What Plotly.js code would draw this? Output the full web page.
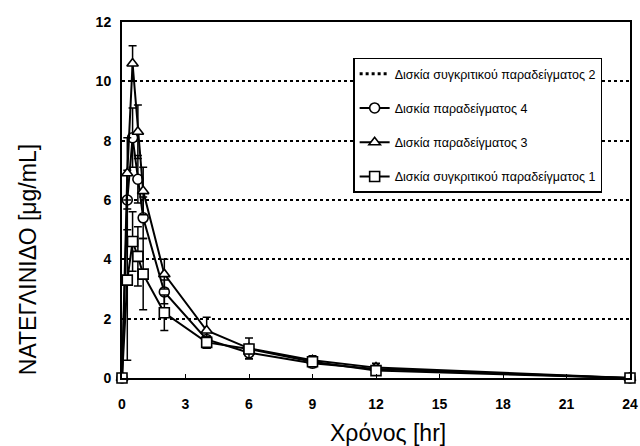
<!DOCTYPE html>
<html>
<head>
<meta charset="utf-8">
<script src="https://cdn.plot.ly/plotly-3.0.1.min.js"></script>
<style>html,body{margin:0;padding:0;background:#fff;}#chart{width:640px;height:446px;}</style>
</head>
<body>
<div id="chart"></div>
<script>
// Time points (hr)
const timeHr = [0, 0.25, 0.5, 0.75, 1, 2, 4, 6, 9, 12, 24];
// Series names (legend order)
const nameComp2 = "Δισκία συγκριτικού παραδείγματος 2";
const nameEx4 = "Δισκία παραδείγματος 4";
const nameEx3 = "Δισκία παραδείγματος 3";
const nameComp1 = "Δισκία συγκριτικού παραδείγματος 1";
// Concentrations (µg/mL)
const ex4Values   = [0, 6.0, 8.1, 6.7, 5.4, 2.9, 1.3, 0.85, 0.5, 0.3, 0];
const ex4Err      = [0, 1.0, 1.0, 0.8, 0.7, 0.4, 0.3, 0.2, 0.15, 0.1, 0];
const ex3Values   = [0, 6.9, 10.6, 8.3, 6.3, 3.5, 1.6, 1.0, 0.6, 0.35, 0];
const ex3Err      = [0, 1.2, 0.6, 0.9, 0.8, 0.5, 0.45, 0.35, 0.15, 0.15, 0];
const comp1Values = [0, 3.3, 4.6, 4.1, 3.5, 2.2, 1.2, 0.98, 0.55, 0.25, 0];
const comp1Err    = [0, 2.7, 1.0, 1.0, 1.2, 0.6, 0.2, 0.15, 0.1, 0.1, 0];
// Axis ticks and titles
const xTicks = [0, 3, 6, 9, 12, 15, 18, 21, 24];
const yTicks = [0, 2, 4, 6, 8, 10, 12];
const xTitle = 'Χρόνος [hr]';
const yTitle = 'ΝΑΤΕΓΛΙΝΙΔΟ [μg/mL]';

const FONT = 'Liberation Sans, Arial, sans-serif';

function series(name, group, y, err, symbol) {
  return {
    x: timeHr, y: y, name: name, legendgroup: group, type: 'scatter', mode: 'lines+markers',
    line: {color: '#000', width: 2},
    marker: {symbol: symbol, size: 10, color: '#fff', line: {color: '#000', width: 1.6}},
    error_y: {type: 'data', array: err, visible: true, color: '#000', thickness: 1.5, width: 4},
    cliponaxis: false
  };
}

const data = [
  {x: [null], y: [null], name: nameComp2, legendgroup: 'g1', type: 'scatter', mode: 'lines',
   line: {color: '#000', width: 3, dash: 'dot'}},
  series(nameEx4, 'g2', ex4Values, ex4Err, 'circle'),
  series(nameEx3, 'g3', ex3Values, ex3Err, 'triangle-up'),
  series(nameComp1, 'g4', comp1Values, comp1Err, 'square')
];

const layout = {
  width: 640, height: 446,
  margin: {l: 122, r: 10, t: 22, b: 68},
  paper_bgcolor: '#fff', plot_bgcolor: '#fff',
  showlegend: true,
  legend: {
    x: 0.455, y: 0.9, xanchor: 'left', yanchor: 'top',
    bgcolor: '#fff', bordercolor: '#000', borderwidth: 1.5,
    font: {family: FONT, size: 12.5, color: '#000'},
    traceorder: 'grouped', tracegroupgap: 15, itemwidth: 30
  },
  xaxis: {
    range: [0, 24], tickvals: xTicks, ticktext: xTicks.map(String),
    showline: true, linecolor: '#000', linewidth: 2, mirror: true,
    ticks: 'inside', ticklen: 4, tickcolor: '#000', ticklabelstandoff: 12,
    showgrid: false, zeroline: false,
    tickfont: {family: FONT, size: 14, color: '#000', weight: 'bold'}
  },
  yaxis: {
    range: [0, 12], tickvals: yTicks, ticktext: yTicks.map(String),
    showline: true, linecolor: '#000', linewidth: 2, mirror: true,
    ticks: '', ticklabelstandoff: 6,
    showgrid: true, gridcolor: '#000', gridwidth: 2, griddash: 'dot',
    zeroline: false,
    tickfont: {family: FONT, size: 14, color: '#000', weight: 'bold'}
  },
  annotations: [
    {text: xTitle, xref: 'paper', yref: 'paper', x: 0.524, y: -0.155,
     xanchor: 'center', yanchor: 'middle', showarrow: false,
     font: {family: FONT, size: 23, color: '#000'}},
    {text: yTitle, xref: 'paper', yref: 'paper', x: -0.185, y: 0.331,
     xanchor: 'center', yanchor: 'middle', showarrow: false, textangle: -90,
     font: {family: FONT, size: 23, color: '#000'}}
  ]
};

Plotly.newPlot('chart', data, layout, {displayModeBar: false, staticPlot: true});
</script>
</body>
</html>
